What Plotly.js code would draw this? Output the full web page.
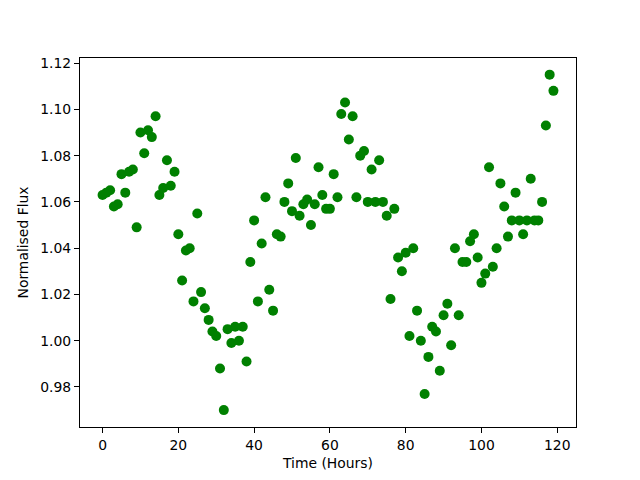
<!DOCTYPE html>
<html>
<head>
<meta charset="utf-8">
<script src="https://cdn.plot.ly/plotly-3.0.1.min.js"></script>
<style>html,body{margin:0;padding:0;background:#fff;}#chart{width:640px;height:480px;}</style>
</head>
<body>
<div id="chart"></div>
<script>
const hours = [];
for (let i = 0; i < 120; i++) hours.push(i);
const flux = [
1.063,1.064,1.065,1.058,1.059,1.072,1.064,1.073,1.074,1.049,
1.090,1.081,1.091,1.088,1.097,1.063,1.066,1.078,1.067,1.073,
1.046,1.026,1.039,1.040,1.017,1.055,1.021,1.014,1.009,1.004,
1.002,0.988,0.970,1.005,0.999,1.006,1.000,1.006,0.991,1.034,
1.052,1.017,1.042,1.062,1.022,1.013,1.046,1.045,1.060,1.068,
1.056,1.079,1.054,1.059,1.061,1.050,1.059,1.075,1.063,1.057,
1.057,1.072,1.062,1.098,1.103,1.087,1.097,1.062,1.080,1.082,
1.060,1.074,1.060,1.078,1.060,1.054,1.018,1.057,1.036,1.030,
1.038,1.002,1.040,1.013,1.000,0.977,0.993,1.006,1.004,0.987,
1.011,1.016,0.998,1.040,1.011,1.034,1.034,1.043,1.046,1.036,
1.025,1.029,1.075,1.032,1.040,1.068,1.058,1.045,1.052,1.064,
1.052,1.046,1.052,1.070,1.052,1.052,1.060,1.093,1.115,1.108
];
const xTicks = [0,20,40,60,80,100,120];
const yTicks = [0.98,1.00,1.02,1.04,1.06,1.08,1.10,1.12];

const trace = {
  x: hours, y: flux, type: 'scatter', mode: 'markers',
  marker: {color: '#008000', size: 10},
  hoverinfo: 'none'
};
const axisCommon = {
  showline: true, linecolor: '#000', linewidth: 1, mirror: true,
  ticks: 'outside', ticklen: 5, tickwidth: 1, tickcolor: '#000',
  showgrid: false, zeroline: false,
  tickfont: {family: 'DejaVu Sans', size: 13.9, color: '#000'}
};
const layout = {
  width: 640, height: 480,
  margin: {l: 80, r: 64, t: 58, b: 53},
  paper_bgcolor: '#fff', plot_bgcolor: '#fff',
  showlegend: false,
  font: {family: 'DejaVu Sans', size: 13.9, color: '#000'},
  xaxis: Object.assign({}, axisCommon, {
    range: [-5.95, 124.95], tickvals: xTicks, ticktext: xTicks.map(String),
    title: {text: 'Time (Hours)', font: {family: 'DejaVu Sans', size: 13.9}, standoff: 6}
  }),
  yaxis: Object.assign({}, axisCommon, {
    range: [0.9627, 1.1222], tickvals: yTicks, ticktext: yTicks.map(v => v.toFixed(2)),
    title: {text: 'Normalised Flux', font: {family: 'DejaVu Sans', size: 13.9}, standoff: 8}
  })
};
Plotly.newPlot('chart', [trace], layout, {staticPlot: true, displayModeBar: false});
</script>
</body>
</html>
